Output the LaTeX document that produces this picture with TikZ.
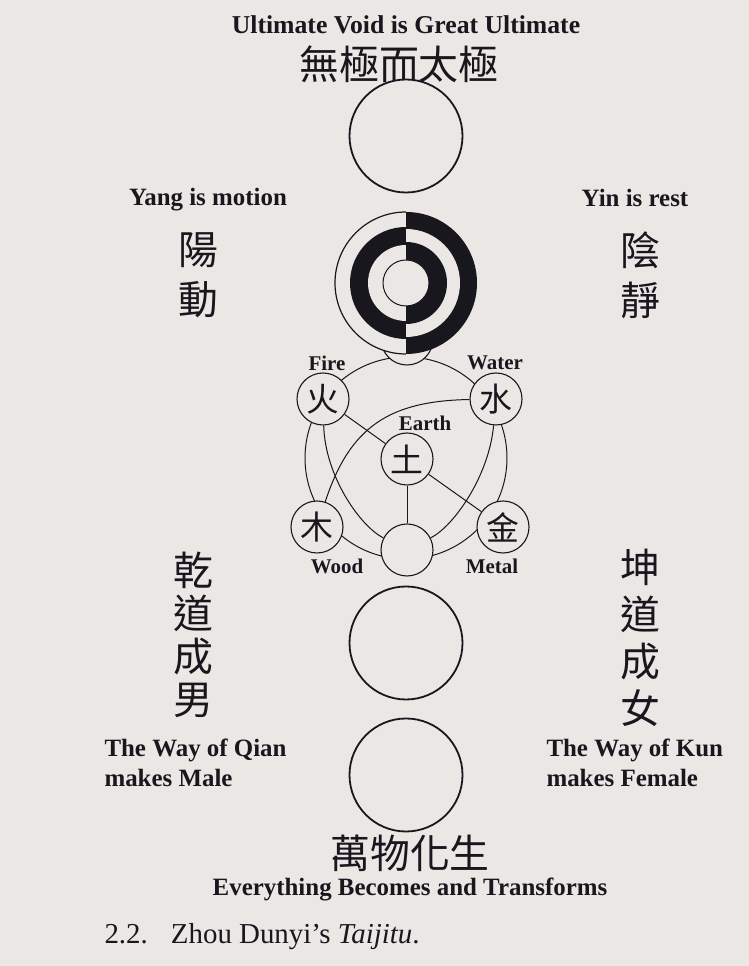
\documentclass[tikz,border=0pt]{standalone}
\usepackage{fontspec}
\setmainfont{Liberation Serif}
\newfontfamily\hanzi{Noto Sans CJK TC}
\usepackage{xcolor}
\usepackage{tikz}
\definecolor{paper}{HTML}{EBE7E5}
\definecolor{ink}{HTML}{17171D}
\pgfdeclarelayer{paperlayer}
\pgfdeclarelayer{links}
\pgfsetlayers{paperlayer,links,main}

\begin{document}
\begin{tikzpicture}[
  x=1bp, y=1bp,
  gloss/.style={font=\fontsize{25}{30}\selectfont\bfseries, text=ink},
  tag/.style={font=\fontsize{21}{24}\selectfont\bfseries, text=ink},
  hz/.style={font=\hanzi\fontsize{40}{46}\selectfont, text=ink},
  orb/.style={circle, draw=ink, line width=1.8bp, fill=paper, minimum size=113bp, inner sep=0pt},
  phase/.style={circle, draw=ink, line width=1.1bp, fill=paper, minimum size=52bp, inner sep=0pt, font=\hanzi\fontsize{33}{33}\selectfont, text=ink},
  link/.style={draw=ink, line width=1bp},
]
  \useasboundingbox (0,0) rectangle (749,966);
  \begin{pgfonlayer}{paperlayer}
    \fill[paper] (0,0) rectangle (749,966);
  \end{pgfonlayer}

  % Top
  \node[gloss, font=\fontsize{25.8}{30}\selectfont\bfseries] (title) at (406,941) {Ultimate Void is Great Ultimate};
  \node[hz] (wujitxt) at (399,902) {無極而太極};
  \node[orb] (wuji) at (406,830) {};

  % Yang and yin
  \node[gloss] (yang) at (208,766) {Yang is motion};
  \node[gloss] (yin) at (635,768) {Yin is rest};
  \node[hz, align=center, font=\hanzi\fontsize{40}{50}\selectfont] (yangtxt) at (198,691) {陽\\動};
  \node[hz, align=center, font=\hanzi\fontsize{40}{50}\selectfont] (yintxt) at (640,691) {陰\\靜};

  % Five phases
  \node[phase] (hub) at (407,627) {};
  \node[phase] (fire) at (323,567) {火};
  \node[phase] (water) at (496,567) {水};
  \node[phase] (earth) at (407,507) {土};
  \node[phase] (wood) at (317,439) {木};
  \node[phase] (metal) at (503,439) {金};
  \node[phase] (gen) at (407,416) {};
  \node[tag] at (327,603) {Fire};
  \node[tag] at (495,603) {Water};
  \node[tag] at (425,543) {Earth};
  \node[tag] at (337,400) {Wood};
  \node[tag] at (492,400) {Metal};

  % Taijitu
  \filldraw[fill=paper, draw=ink, line width=1.2bp] (406,754) arc[start angle=90, end angle=270, radius=71];
  \fill[ink] (406,739) arc[start angle=90, end angle=270, radius=56] -- cycle;
  \fill[paper] (406,721) arc[start angle=90, end angle=270, radius=38] -- cycle;
  \fill[ink] (406,754) arc[start angle=90, end angle=-90, radius=71] -- cycle;
  \fill[paper] (406,737) arc[start angle=90, end angle=-90, radius=54] -- cycle;
  \fill[ink] (406,724) arc[start angle=90, end angle=-90, radius=41] -- cycle;
  \node[circle, draw=ink, line width=1bp, fill=paper, minimum size=46bp, inner sep=0pt] (taiji) at (406,683) {};

  \begin{pgfonlayer}{links}
    \draw[link] (406,508) circle[radius=101];
    \draw[link] (fire) -- (earth);
    \draw[link] (earth) -- (metal);
    \draw[link] (earth) -- (gen);
    \draw[link] (water) .. controls (390,565) and (350,540) .. (wood);
    \draw[link] (fire) .. controls (325,490) and (360,440) .. (gen);
    \draw[link] (water) .. controls (489,490) and (454,440) .. (gen);
  \end{pgfonlayer}

  % Qian and Kun
  \node[hz, align=center, font=\hanzi\fontsize{40}{43}\selectfont] (qiantxt) at (193,331) {乾\\道\\成\\男};
  \node[hz, align=center, font=\hanzi\fontsize{40}{47}\selectfont] (kuntxt) at (640,328) {坤\\道\\成\\女};
  \node[orb] (qiankun) at (406,323) {};
  \node[gloss, align=left, anchor=west] (qian) at (101,203) {The Way of Qian\\makes Male};
  \node[gloss, align=left, anchor=west] (kun) at (543,203) {The Way of Kun\\makes Female};

  % Bottom
  \node[orb] (wanwu) at (406,191) {};
  \node[hz] (wanwutxt) at (410,113) {萬物化生};
  \node[gloss] (becomes) at (410,77) {Everything Becomes and Transforms};
  \node[font=\fontsize{29}{31}\selectfont, text=ink, anchor=west] (fig) at (101,29) {2.2.\hspace{0.8em}Zhou Dunyi’s \textit{Taijitu}.};
\end{tikzpicture}
\end{document}
